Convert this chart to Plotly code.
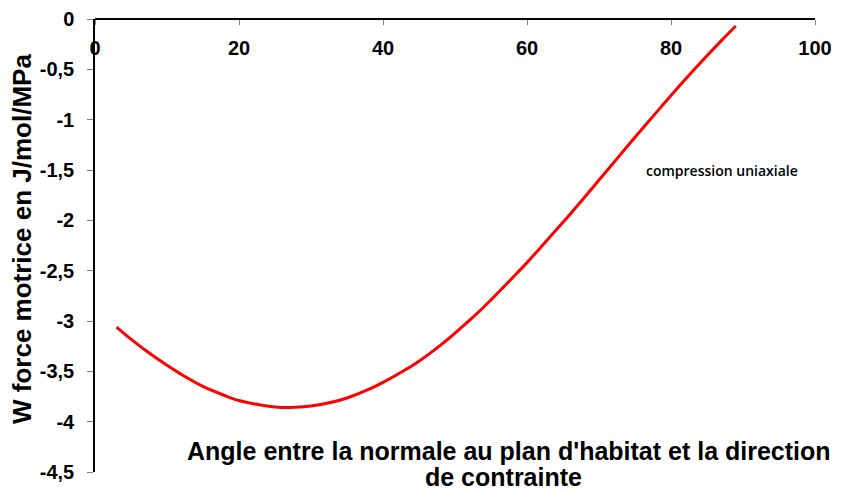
import plotly.graph_objects as go

# Data
angle_deg = [3, 5, 7, 10, 12, 15, 18, 20, 23, 25, 27, 30, 33, 35, 38, 40, 43, 45, 48, 50,
             53, 55, 58, 60, 63, 65, 68, 70, 73, 75, 78, 80, 83, 85, 87, 89]
w_force = [-3.06, -3.18, -3.29, -3.44, -3.53, -3.65, -3.74, -3.79, -3.835, -3.855, -3.86, -3.845,
           -3.805, -3.765, -3.68, -3.61, -3.49, -3.40, -3.24, -3.12, -2.93, -2.79, -2.57, -2.42,
           -2.18, -2.02, -1.77, -1.60, -1.345, -1.175, -0.925, -0.76, -0.52, -0.365, -0.215, -0.07]

x_ticks = [0, 20, 40, 60, 80, 100]
x_tick_labels = ["0", "20", "40", "60", "80", "100"]
y_ticks = [0, -0.5, -1, -1.5, -2, -2.5, -3, -3.5, -4, -4.5]
y_tick_labels = ["0", "-0,5", "-1", "-1,5", "-2", "-2,5", "-3", "-3,5", "-4", "-4,5"]

x_title_lines = ["Angle entre la normale au plan d'habitat et la direction", "de contrainte"]
y_title = "W force motrice en J/mol/MPa"
note = "compression uniaxiale"

FONT = "Arial, Liberation Sans, sans-serif"

# The page body adds an 8px offset; work in screen pixels and subtract it.
OFF = 8
W, H = 841 - OFF, 490 - OFF
L, R, T, B = 95 - OFF, 815 - OFF, 19.3 - OFF, 471.7 - OFF


def px_x(p):
    return (p - OFF - L) / (R - L)


def px_y(p):
    return (B - (p - OFF)) / (B - T)


fig = go.Figure()
fig.add_trace(go.Scatter(
    x=angle_deg, y=w_force, mode="lines",
    line=dict(color="#FF0000", width=3, shape="spline", smoothing=1.0),
    showlegend=False, hoverinfo="skip",
))

fig.update_layout(
    width=W, height=H,
    margin=dict(l=L, r=W - R, t=T, b=H - B, autoexpand=False),
    paper_bgcolor="white", plot_bgcolor="white",
    showlegend=False,
    xaxis=dict(
        range=[0, 100], anchor="free", position=1, side="bottom",
        tickvals=x_ticks, ticktext=[f"<b>{t}</b>" for t in x_tick_labels],
        ticks="outside", ticklen=5, tickcolor="#808080", tickwidth=1,
        ticklabelstandoff=6,
        showline=True, linecolor="black", linewidth=1.5,
        showgrid=False, zeroline=False,
        tickfont=dict(family=FONT, size=20, color="black"),
    ),
    yaxis=dict(
        range=[-4.5, 0],
        tickvals=y_ticks, ticktext=[f"<b>{t}</b>" for t in y_tick_labels],
        ticks="outside", ticklen=6, tickcolor="#808080", tickwidth=1,
        ticklabelstandoff=9,
        showline=True, linecolor="black", linewidth=1.5,
        showgrid=False, zeroline=False,
        tickfont=dict(family=FONT, size=20, color="black"),
    ),
    annotations=[
        dict(text=f"<b>{y_title}</b>", xref="paper", yref="paper", x=px_x(22), y=px_y(239),
             xanchor="center", yanchor="middle", textangle=-90, showarrow=False,
             font=dict(family=FONT, size=26, color="black")),
        dict(text=f"<b>{x_title_lines[0]}</b>", xref="paper", yref="paper", x=px_x(509), y=px_y(451),
             xanchor="center", yanchor="middle", showarrow=False,
             font=dict(family=FONT, size=25, color="black")),
        dict(text=f"<b>{x_title_lines[1]}</b>", xref="paper", yref="paper", x=px_x(503), y=px_y(477),
             xanchor="center", yanchor="middle", showarrow=False,
             font=dict(family=FONT, size=25, color="black")),
        dict(text=note, xref="paper", yref="paper", x=px_x(722), y=px_y(171),
             xanchor="center", yanchor="middle", showarrow=False,
             font=dict(family="Open Sans, sans-serif", size=14, color="black", weight=600)),
    ],
)

fig.write_html("out.html")
